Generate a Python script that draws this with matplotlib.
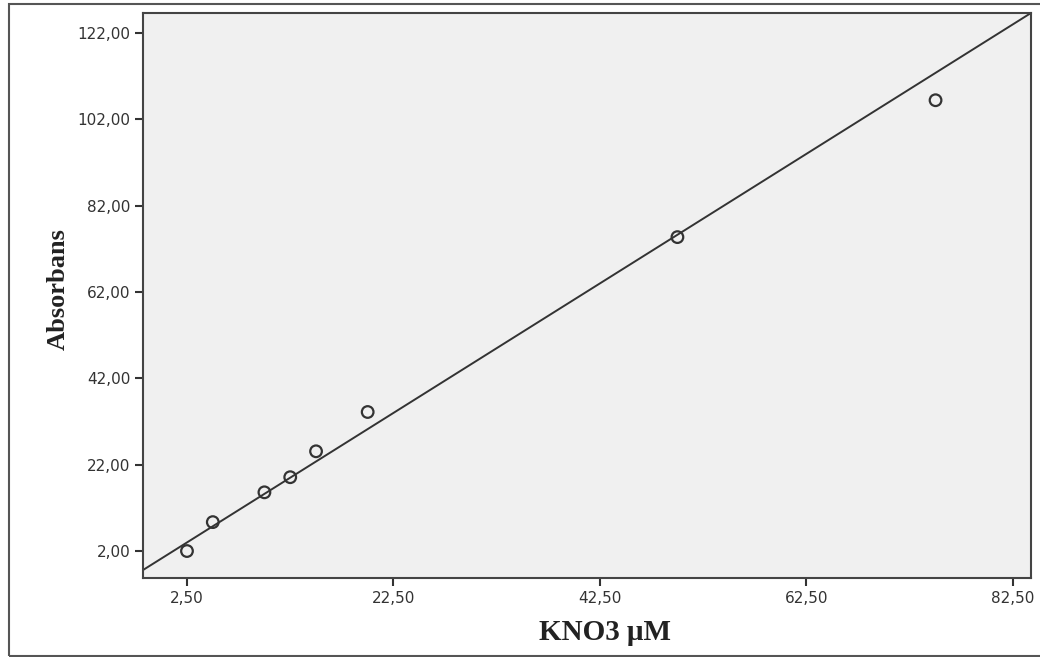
import matplotlib.pyplot as plt
import matplotlib.patches as patches

# KNO3 concentration (uM) vs absorbance
kno3 = [2.5, 5.0, 10.0, 12.5, 15.0, 20.0, 50.0, 75.0]
absorbans = [2.0, 8.7, 15.6, 19.1, 25.1, 34.2, 74.7, 106.4]

# fit line as drawn in the reference
fit_intercept = 0.24
fit_slope = 1.5

xticks = [2.5, 22.5, 42.5, 62.5, 82.5]
yticks = [2.0, 22.0, 42.0, 62.0, 82.0, 102.0, 122.0]

def comma(v):
    return ('%.2f' % v).replace('.', ',')

fig = plt.figure(figsize=(10.4, 6.57), dpi=100)
ax = fig.add_axes([0.1375, 0.1202, 0.8538, 0.8600])

# outer frame
frame = patches.Rectangle((9 / 1040, 1 / 657), 1.2, 652 / 657,
                          transform=fig.transFigure, fill=False,
                          edgecolor='#555555', linewidth=1.5, clip_on=False)
fig.patches.append(frame)

ax.set_facecolor('#f0f0f0')
ax.axline((0, fit_intercept), slope=fit_slope, color='#333333', linewidth=1.4)
ax.scatter(kno3, absorbans, s=70, facecolors='none', edgecolors='#333333',
           linewidths=1.6, zorder=3)

ax.set_xlim(-1.76, 84.24)
ax.set_ylim(-4.25, 126.6)
ax.set_xticks(xticks)
ax.set_xticklabels([comma(v) for v in xticks])
ax.set_yticks(yticks)
ax.set_yticklabels([comma(v) for v in yticks])
ax.tick_params(direction='out', length=6, width=1.5, colors='#333333',
               labelsize=11, pad=3)
for lab in ax.get_xticklabels() + ax.get_yticklabels():
    lab.set_family('DejaVu Sans')

for sp in ax.spines.values():
    sp.set_color('#444444')
    sp.set_linewidth(1.5)

ax.set_xlabel('KNO3 \u03bcM', family='Liberation Serif', fontweight='bold',
              fontsize=21, color='#222222')
ax.xaxis.set_label_coords(0.52, -0.072)
ax.set_ylabel('Absorbans', family='Liberation Serif', fontweight='bold',
              fontsize=19, color='#222222')
ax.yaxis.set_label_coords(-0.083, 0.511)

fig.savefig('out.png', dpi=100)
